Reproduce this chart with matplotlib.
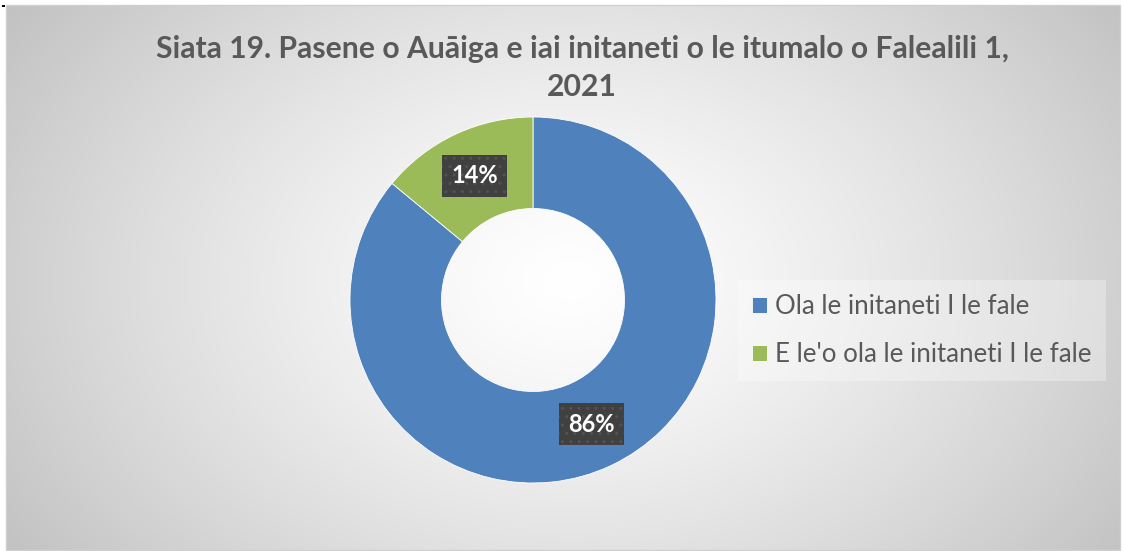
import numpy as np
import matplotlib
matplotlib.use("Agg")
import matplotlib.pyplot as plt
from matplotlib.patches import Rectangle

title = "Siata 19. Pasene o Auāiga e iai initaneti o le itumalo o Falealili 1,\n2021"
categories = ["Ola le initaneti I le fale", "E le'o ola le initaneti I le fale"]
values = [86, 14]
colors = ["#4F81BD", "#9BBB59"]

W, H = 1122, 551
fig = plt.figure(figsize=(W / 100, H / 100), dpi=100)
plt.rcParams['font.family'] = ['Lato', 'DejaVu Sans']

# background radial gradient
bg = fig.add_axes([0, 0, 1, 1])
yy, xx = np.mgrid[0:H, 0:W]
cx, cy = 570, 280
r = np.sqrt(((xx - cx) / 560.0) ** 2 + ((yy - cy) / 400.0) ** 2)
r = np.clip(r / 1.25, 0, 1)
shade = 1.0 - 0.25 * r ** 1.3
img = np.dstack([shade, shade, shade])
img[:, :6] = 1.0
img[:5, :] = 1.0
img[:, 1120:] = 1.0
bg.imshow(img, extent=[0, W, H, 0], aspect='auto', interpolation='bilinear')
bg.add_patch(Rectangle((6, 5), 1114, 545, fill=False, edgecolor='#d0d0d0', lw=1))
bg.add_patch(Rectangle((2, 5), 3, 1.5, color='black', lw=0))
bg.set_xlim(0, W)
bg.set_ylim(H, 0)
bg.axis('off')

# donut
cxp, cyp, R = 533, 300, 183
ax = fig.add_axes([(cxp - R) / W, (H - cyp - R) / H, 2 * R / W, 2 * R / H])
wedges, _, autotexts = ax.pie(values, colors=colors, startangle=90, counterclock=False,
                              radius=1.0, autopct='%d%%', pctdistance=0.75,
                              wedgeprops=dict(width=0.5, edgecolor='white', linewidth=0.6),
                              textprops=dict(color='white', fontsize=17, fontweight='bold'))
for t in autotexts:
    t.set_bbox(dict(boxstyle='square,pad=0.4', facecolor='#404040', edgecolor='#525252',
                    hatch='..', linewidth=0))
ax.set_xlim(-1, 1)
ax.set_ylim(-1, 1)
ax.axis('off')

fig.text(582 / W, 1 - 96 / H, title, ha='center', va='baseline', fontsize=21.7,
         fontweight='bold', color='#595959', linespacing=1.42, multialignment='center')

leg = fig.legend(wedges, categories, loc='center left',
                 bbox_to_anchor=(738 / W, 1 - 330.5 / H), bbox_transform=fig.transFigure,
                 fontsize=18.6, frameon=True, fancybox=False, handlelength=0.58, handleheight=0.58,
                 handletextpad=0.3, labelspacing=0.9, borderpad=0.55, borderaxespad=0,
                 labelcolor='#595959')
fr = leg.get_frame()
fr.set_facecolor('white')
fr.set_alpha(0.3)
fr.set_edgecolor('none')

fig.savefig('out.png', dpi=100)
